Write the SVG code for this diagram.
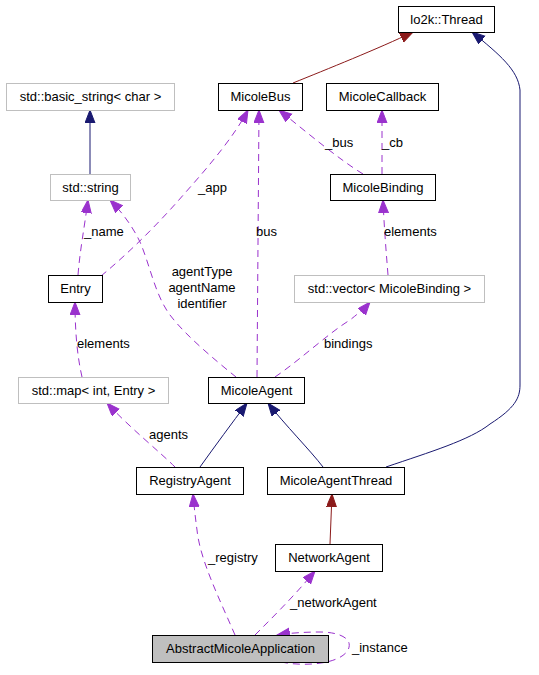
<svg xmlns="http://www.w3.org/2000/svg" width="539" height="675" viewBox="0 0 539 675">
<style>
text{font-family:"Liberation Sans",Arial,sans-serif;font-size:13px;fill:#000}
.n rect{fill:#fff;stroke:#000;stroke-width:1}
.g rect{fill:#fff;stroke:#bfbfbf;stroke-width:1}
.n text,.g text{text-anchor:middle}
.blue{fill:none;stroke:#191970;stroke-width:1}
.red{fill:none;stroke:#8b1a1a;stroke-width:1}
.pur{fill:none;stroke:#9a32cd;stroke-width:1;stroke-dasharray:7,5}
</style>
<defs>
<marker id="ab" markerUnits="userSpaceOnUse" markerWidth="14" markerHeight="11" refX="13" refY="5" orient="auto"><path d="M0,0 L13,5 L0,10 z" fill="#191970" stroke="#191970"/></marker>
<marker id="ar" markerUnits="userSpaceOnUse" markerWidth="14" markerHeight="11" refX="13" refY="5" orient="auto"><path d="M0,0 L13,5 L0,10 z" fill="#8b1a1a" stroke="#8b1a1a"/></marker>
<marker id="ap" markerUnits="userSpaceOnUse" markerWidth="14" markerHeight="11" refX="13" refY="5" orient="auto"><path d="M0,0 L13,5 L0,10 z" fill="#9a32cd" stroke="#9a32cd"/></marker>
</defs>
<g id="edges">
<path class="red" d="M293,83 C325,70 380,48 413,32" marker-end="url(#ar)"/>
<path class="blue" d="M386,467 C430,452 470,440 490,424 C515,408 520,398 520,385 L520,90 C518,70 500,55 472,32" marker-end="url(#ab)"/>
<path class="blue" d="M90,174 L90,110" marker-end="url(#ab)"/>
<path class="blue" d="M200,467 C215,446 232,423 247,403" marker-end="url(#ab)"/>
<path class="blue" d="M323,467 C310,450 285,425 268,403" marker-end="url(#ab)"/>
<path class="red" d="M330,544 L332,494" marker-end="url(#ar)"/>
<path class="pur" d="M78,275 C80,250 84,230 88,200" marker-end="url(#ap)"/>
<path class="pur" d="M101,276 C130,252 160,222 185,193 C210,165 235,135 248,110" marker-end="url(#ap)"/>
<path class="pur" d="M236,377 C215,360 185,335 170,315 C155,295 150,265 140,242 C132,225 120,210 110,200" marker-end="url(#ap)"/>
<path class="pur" d="M257,377 L259,110" marker-end="url(#ap)"/>
<path class="pur" d="M275,377 C300,360 330,332 350,320 C360,312 365,308 370,302" marker-end="url(#ap)"/>
<path class="pur" d="M388,275 C386,250 384,225 383,200" marker-end="url(#ap)"/>
<path class="pur" d="M382,174 L382,110" marker-end="url(#ap)"/>
<path class="pur" d="M363,174 C340,160 310,135 279,110" marker-end="url(#ap)"/>
<path class="pur" d="M82,377 C77,355 75,330 75,302" marker-end="url(#ap)"/>
<path class="pur" d="M175,467 C160,452 130,428 107,403" marker-end="url(#ap)"/>
<path class="pur" d="M235,635 C220,600 200,560 197,530 C195,515 194,505 193,494" marker-end="url(#ap)"/>
<path class="pur" d="M255,635 C275,615 295,595 315,571" marker-end="url(#ap)"/>
<path class="pur" d="M281,662 C305,667 340,664 348,650 C354,638 338,632 320,632 C305,632 290,633 277,635" marker-end="url(#ap)"/>
<text x="84" y="236">_name</text>
<text x="198" y="192">_app</text>
<text x="202" y="276" text-anchor="middle">agentType</text>
<text x="202" y="292" text-anchor="middle">agentName</text>
<text x="202" y="308" text-anchor="middle">identifier</text>
<text x="256" y="236">bus</text>
<text x="324" y="348">bindings</text>
<text x="384" y="236">elements</text>
<text x="382" y="147">_cb</text>
<text x="325" y="147">_bus</text>
<text x="77" y="348">elements</text>
<text x="149" y="439">agents</text>
<text x="208" y="562">_registry</text>
<text x="290" y="607">_networkAgent</text>
<text x="352" y="652">_instance</text>
</g>
<g id="thread" class="n"><rect x="398.5" y="6.5" width="96" height="26"/><text x="446.5" y="24">lo2k::Thread</text></g>
<g id="micolebus" class="n"><rect x="218.5" y="83.5" width="84" height="27"/><text x="260.5" y="101">MicoleBus</text></g>
<g id="micolecallback" class="n"><rect x="326.5" y="83.5" width="112" height="27"/><text x="382.5" y="101">MicoleCallback</text></g>
<g id="basicstring" class="g"><rect x="6.5" y="83.5" width="168" height="27"/><text x="90.5" y="101">std::basic_string&lt; char &gt;</text></g>
<g id="stdstring" class="g"><rect x="50.5" y="174.5" width="80" height="26"/><text x="90.5" y="192">std::string</text></g>
<g id="micolebinding" class="n"><rect x="330.5" y="174.5" width="105" height="26"/><text x="383" y="192">MicoleBinding</text></g>
<g id="entry" class="n"><rect x="48.5" y="275.5" width="54" height="27"/><text x="75.5" y="293">Entry</text></g>
<g id="vector" class="g"><rect x="294.5" y="275.5" width="190" height="27"/><text x="389.5" y="293">std::vector&lt; MicoleBinding &gt;</text></g>
<g id="map" class="g"><rect x="18.5" y="377.5" width="150" height="26"/><text x="93.5" y="395">std::map&lt; int, Entry &gt;</text></g>
<g id="micoleagent" class="n"><rect x="208.5" y="377.5" width="96" height="26"/><text x="256.5" y="395">MicoleAgent</text></g>
<g id="registryagent" class="n"><rect x="136.5" y="467.5" width="107" height="27"/><text x="190" y="485">RegistryAgent</text></g>
<g id="micoleagentthread" class="n"><rect x="267.5" y="467.5" width="137" height="27"/><text x="336" y="485">MicoleAgentThread</text></g>
<g id="networkagent" class="n"><rect x="275.5" y="544.5" width="107" height="27"/><text x="329" y="562">NetworkAgent</text></g>
<g id="abstract" class="n"><rect x="152.5" y="635.5" width="176" height="27" style="fill:#bfbfbf"/><text x="240.5" y="653">AbstractMicoleApplication</text></g>
</svg>
